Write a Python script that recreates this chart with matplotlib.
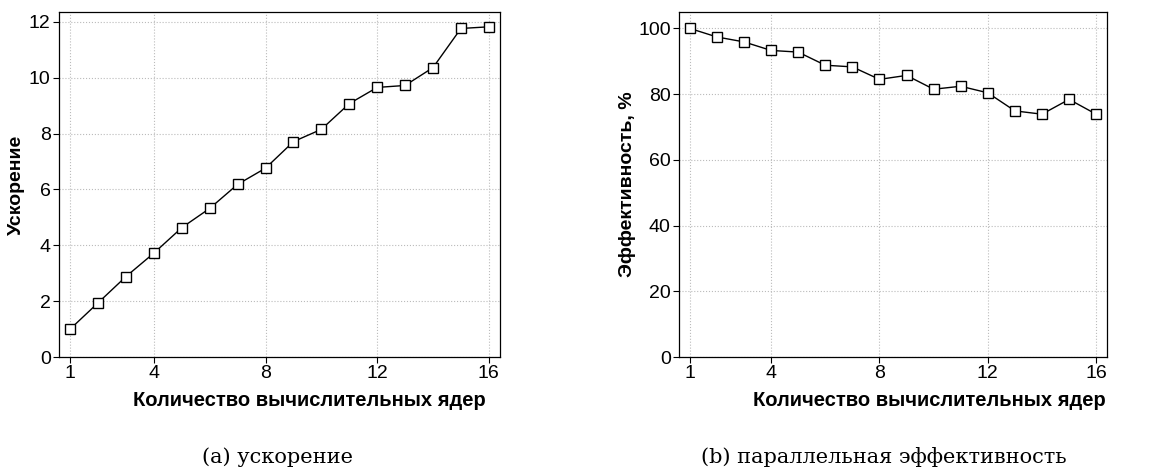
import numpy as np
import matplotlib.pyplot as plt

# Data
cores = np.arange(1, 17)
speedup = [1.0, 1.94, 2.88, 3.72, 4.63, 5.32, 6.18, 6.76, 7.71, 8.15,
           9.07, 9.65, 9.72, 10.36, 11.76, 11.82]
efficiency = [100.0, 97.4, 95.9, 93.3, 92.8, 88.8, 88.3, 84.5, 85.7, 81.5,
              82.4, 80.4, 74.9, 73.9, 78.4, 73.9]

x_ticks = [1, 4, 8, 12, 16]
x_label = 'Количество вычислительных ядер'
captions = ['(a) ускорение', '(b) параллельная эффективность']

plt.rcParams['font.family'] = ['Liberation Sans', 'DejaVu Sans']

fig = plt.figure(figsize=(11.75, 4.7), dpi=100)
ax1 = fig.add_axes([59 / 1175, 1 - 357 / 470, 441 / 1175, 345 / 470])
ax2 = fig.add_axes([679 / 1175, 1 - 357 / 470, 428 / 1175, 345 / 470])


def style(ax, y, ylabel, ylim, yticks, xlab_x, ylab_x):
    ax.plot(cores, y, color='black', linewidth=1,
            marker='s', markersize=7, markerfacecolor='white',
            markeredgecolor='black', markeredgewidth=1, zorder=3)
    ax.set_xlim(0.6, 16.4)
    ax.set_ylim(*ylim)
    ax.set_xticks(x_ticks)
    ax.set_yticks(yticks)
    ax.tick_params(labelsize=14, length=4, width=0.8, pad=2)
    ax.grid(True, linestyle=':', color='#bbbbbb', linewidth=0.8)
    ax.set_xlabel(x_label, fontsize=14.5, fontweight='bold')
    ax.set_ylabel(ylabel, fontsize=14, fontweight='bold')
    ax.xaxis.set_label_coords(xlab_x, -0.1)
    ax.yaxis.set_label_coords(ylab_x, 0.5)
    for s in ax.spines.values():
        s.set_linewidth(0.9)


style(ax1, speedup, 'Ускорение', (0, 12.35), range(0, 13, 2),
      (309 - 59) / 441, (25 - 59) / 441)
style(ax2, efficiency, 'Эффективность, %', (0, 105), range(0, 101, 20),
      (929 - 679) / 428, (636 - 679) / 428)

fig.text(277 / 1175, 1 - 457 / 470, captions[0], ha='center', va='center',
         fontsize=15, family=['DejaVu Serif'])
fig.text(884 / 1175, 1 - 457 / 470, captions[1], ha='center', va='center',
         fontsize=15, family=['DejaVu Serif'])

fig.savefig('out.png', dpi=100)
